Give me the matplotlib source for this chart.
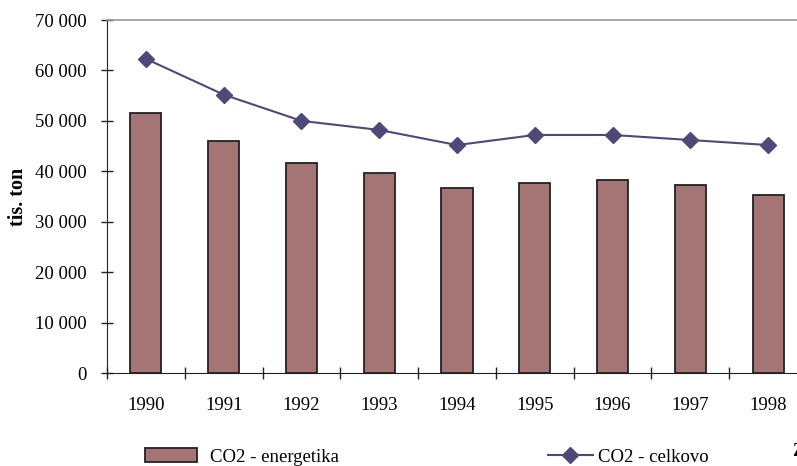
import matplotlib
matplotlib.use("Agg")
import matplotlib.pyplot as plt
from matplotlib.ticker import FuncFormatter, FixedLocator

years = ["1990", "1991", "1992", "1993", "1994", "1995", "1996", "1997", "1998"]
energetika = [51600, 46000, 41700, 39700, 36700, 37700, 38300, 37300, 35300]
celkovo = [62300, 55200, 50000, 48200, 45200, 47200, 47200, 46200, 45200]
yticks = [0, 10000, 20000, 30000, 40000, 50000, 60000, 70000]

plt.rcParams['font.family'] = ['Liberation Serif', 'DejaVu Serif']

W, H = 797, 466
fig = plt.figure(figsize=(W / 100, H / 100), dpi=100)
left, right, top, bottom = 107, 807, 20, 373
ax = fig.add_axes([left / W, 1 - bottom / H, (right - left) / W, (bottom - top) / H])

x = list(range(len(years)))
bar_color = "#A57575"
line_color = "#4D4A7A"
ax.bar(x, energetika, width=0.4, color=bar_color, edgecolor="#222222", linewidth=1.3,
       label="CO2 - energetika", zorder=2)
ax.plot(x, celkovo, color=line_color, linewidth=1.5, marker="D", markersize=8.5,
        label="CO2 - celkovo", zorder=3)

ax.set_xlim(-0.5, len(years) - 0.5)
ax.set_ylim(0, 70000)
ax.set_yticks(yticks)
ax.yaxis.set_major_formatter(FuncFormatter(lambda v, p: f"{int(v):,}".replace(",", " ")))
ax.set_xticks(x)
ax.set_xticklabels(years)
ax.xaxis.set_minor_locator(FixedLocator([i + 0.5 for i in range(-1, len(years))]))
ax.tick_params(axis="x", which="major", length=0, pad=17, labelsize=13.5)
ax.tick_params(axis="x", which="minor", direction="inout", length=9, width=1, color="#222222")
ax.tick_params(axis="y", direction="inout", length=9, width=1, color="#222222", labelsize=13.5, pad=10)

ax.spines["right"].set_visible(False)
ax.spines["top"].set_color("#999999")
ax.spines["top"].set_linewidth(1.2)
ax.spines["left"].set_color("#222222")
ax.spines["bottom"].set_color("#222222")

fig.text(18 / W, 1 - 197 / H, "tis. ton", rotation=90, ha="center", va="center",
         fontsize=14.5, fontweight="bold")

h, l = ax.get_legend_handles_labels()
fig.legend([h[1]], [l[1]], loc="center left", bbox_to_anchor=(139 / W, 1 - 457 / H),
           frameon=False, fontsize=13.5, handlelength=2.8, handleheight=0.7, handletextpad=0.7,
           borderaxespad=0, borderpad=0.3)
fig.legend([h[0]], [l[0]], loc="center left", bbox_to_anchor=(542 / W, 1 - 457 / H),
           frameon=False, fontsize=13.5, handlelength=2.4, handletextpad=0.3,
           borderaxespad=0, borderpad=0.3)
fig.text(792 / W, 1 - 452 / H, "Zdroj", fontsize=13, fontweight="bold", ha="left", va="center")

fig.savefig("out.png", dpi=100)
